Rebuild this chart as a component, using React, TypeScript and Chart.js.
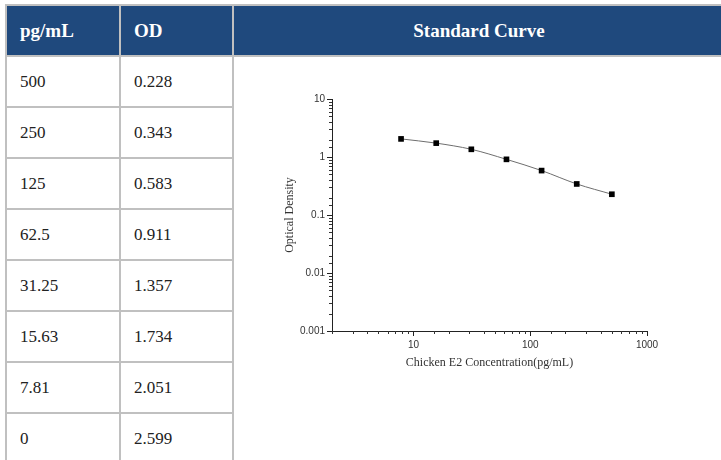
import React, { useEffect, useRef } from "react";
import { Chart, registerables } from "chart.js";

Chart.register(...registerables);

const concLabels = ["500", "250", "125", "62.5", "31.25", "15.63", "7.81", "0"];
const concValues = [500, 250, 125, 62.5, 31.25, 15.63, 7.81, 0];
const odValues = [0.228, 0.343, 0.583, 0.911, 1.357, 1.734, 2.051, 2.599];
const xTickLabels = ["10", "100", "1000"];
const yTickLabels = ["0.001", "0.01", "0.1", "1", "10"];
const headers = ["pg/mL", "OD", "Standard Curve"];
const xTitle = "Chicken E2 Concentration(pg/mL)";
const yTitle = "Optical Density";

const isDecade = (v: number) => {
  const l = Math.log10(v);
  return Math.abs(l - Math.round(l)) < 1e-9;
};
const labelFor = (list: string[], v: number) => {
  const hit = list.find((s) => Math.abs(Number(s) - v) / v < 1e-6);
  return hit === undefined ? "" : hit;
};

const minorTicks = {
  id: "minorTicks",
  afterDraw(chart: any) {
    const ctx = chart.ctx;
    const xs = chart.scales.x;
    const ys = chart.scales.y;
    ctx.save();
    ctx.strokeStyle = "#333";
    ctx.lineWidth = 1;
    xs.ticks.forEach((t: any) => {
      if (isDecade(t.value)) return;
      const px = Math.round(xs.getPixelForValue(t.value)) + 0.5;
      ctx.beginPath();
      ctx.moveTo(px, xs.top);
      ctx.lineTo(px, xs.top + 3);
      ctx.stroke();
    });
    ys.ticks.forEach((t: any) => {
      if (isDecade(t.value)) return;
      const py = Math.round(ys.getPixelForValue(t.value)) + 0.5;
      ctx.beginPath();
      ctx.moveTo(ys.right, py);
      ctx.lineTo(ys.right - 3, py);
      ctx.stroke();
    });
    ctx.restore();
  },
};

const CANVAS_W = 410;
const CANVAS_H = 295;

function CurveChart() {
  const ref = useRef<HTMLCanvasElement | null>(null);
  useEffect(() => {
    if (!ref.current) return;
    const pts = concValues
      .map((x, i) => ({ x, y: odValues[i] }))
      .filter((p) => p.x > 0);
    const chart = new Chart(ref.current, {
      type: "scatter",
      data: {
        datasets: [
          {
            data: pts,
            showLine: true,
            borderColor: "#6e6e6e",
            borderWidth: 1,
            cubicInterpolationMode: "monotone",
            pointStyle: "rect",
            pointRadius: 4,
            pointBackgroundColor: "#000",
            pointBorderColor: "#000",
            pointBorderWidth: 0,
          } as any,
        ],
      },
      options: {
        animation: false,
        responsive: false,
        devicePixelRatio: window.devicePixelRatio || 1,
        layout: { padding: { top: 14, right: 33, left: 0, bottom: 0 } },
        plugins: { legend: { display: false }, tooltip: { enabled: false } },
        scales: {
          x: {
            type: "logarithmic",
            min: 2,
            max: 1000,
            afterFit: (s: any) => {
              s.height = 49;
            },
            border: { display: true, color: "#222", width: 1 },
            grid: {
              display: true,
              drawOnChartArea: false,
              drawTicks: true,
              tickLength: 5,
              tickColor: (c: any) => (c.tick && isDecade(c.tick.value) ? "#222" : "rgba(0,0,0,0)"),
            },
            ticks: {
              autoSkip: false,
              maxRotation: 0,
              padding: 3,
              color: "#333",
              font: { family: '"Liberation Sans", Arial, sans-serif', size: 10 },
              callback: (v: any) => (isDecade(Number(v)) ? labelFor(xTickLabels, Number(v)) : ""),
            },
            title: {
              display: true,
              text: xTitle,
              color: "#333",
              font: { family: '"Liberation Serif", "Times New Roman", serif', size: 12 },
              padding: { top: 0, bottom: 10 },
            },
          },
          y: {
            type: "logarithmic",
            min: 0.001,
            max: 10,
            afterFit: (s: any) => {
              s.width = 62;
            },
            border: { display: true, color: "#222", width: 1 },
            grid: {
              display: true,
              drawOnChartArea: false,
              drawTicks: true,
              tickLength: 5,
              tickColor: (c: any) => (c.tick && isDecade(c.tick.value) ? "#222" : "rgba(0,0,0,0)"),
            },
            ticks: {
              autoSkip: false,
              padding: 2,
              color: "#333",
              font: { family: '"Liberation Sans", Arial, sans-serif', size: 10 },
              callback: (v: any) => (isDecade(Number(v)) ? labelFor(yTickLabels, Number(v)) : ""),
            },
            title: {
              display: true,
              text: yTitle,
              color: "#333",
              font: { family: '"Liberation Serif", "Times New Roman", serif', size: 12 },
              padding: { top: 13, bottom: 0 },
            },
          },
        },
      } as any,
      plugins: [minorTicks],
    });
    return () => chart.destroy();
  }, []);
  return (
    <canvas
      ref={ref}
      width={CANVAS_W}
      height={CANVAS_H}
      style={{ position: "absolute", left: 270, top: 85, width: CANVAS_W, height: CANVAS_H }}
    />
  );
}

const BORDER = "#c0c0c0";
const HEAD_BG = "#1f497d";
const colLines = [5, 119, 232];
const rowTop = 57;
const rowH = 51;

export default function App() {
  useEffect(() => {
    document.body.style.margin = "0";
  }, []);
  const serif = '"Liberation Serif", "Times New Roman", serif';
  const headStyle: React.CSSProperties = {
    position: "absolute",
    top: 7,
    height: 48,
    lineHeight: "48px",
    color: "#fff",
    fontWeight: "bold",
    fontSize: 19,
  };
  const cellStyle: React.CSSProperties = {
    position: "absolute",
    height: 49,
    lineHeight: "50px",
    color: "#222",
    fontSize: 17,
  };
  return (
    <div
      style={{
        position: "absolute",
        left: 0,
        top: 0,
        width: 721,
        height: 460,
        overflow: "hidden",
        background: "#fff",
        fontFamily: serif,
      }}
    >
      <div style={{ position: "absolute", left: 5, top: 4, width: 730, height: 53, background: HEAD_BG }} />
      <div style={{ position: "absolute", left: 5, top: 4, width: 730, height: 2, background: BORDER }} />
      <div style={{ position: "absolute", left: 5, top: 55, width: 730, height: 2, background: BORDER }} />
      {colLines.map((x, i) => (
        <div key={"v" + i} style={{ position: "absolute", left: x, top: 4, width: 2, height: 470, background: BORDER }} />
      ))}
      {concLabels.map((_, i) =>
        i === 0 ? null : (
          <div
            key={"h" + i}
            style={{ position: "absolute", left: 5, top: 55 + rowH * i, width: 229, height: 2, background: BORDER }}
          />
        )
      )}
      <div style={{ ...headStyle, left: 20 }}>{headers[0]}</div>
      <div style={{ ...headStyle, left: 134 }}>{headers[1]}</div>
      <div style={{ ...headStyle, left: 234, width: 490, textAlign: "center" }}>{headers[2]}</div>
      {concLabels.map((c, i) => (
        <React.Fragment key={"r" + i}>
          <div style={{ ...cellStyle, left: 20, top: rowTop + rowH * i }}>{c}</div>
          <div style={{ ...cellStyle, left: 134, top: rowTop + rowH * i }}>{odValues[i].toFixed(3)}</div>
        </React.Fragment>
      ))}
      <CurveChart />
    </div>
  );
}
